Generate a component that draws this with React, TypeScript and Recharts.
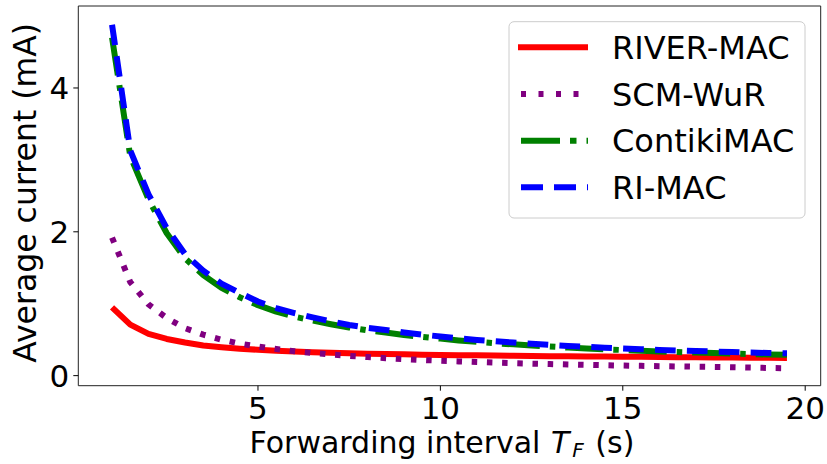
import React from "react";
import { LineChart, Line, XAxis, YAxis, ReferenceArea, Label } from "recharts";

// forwarding interval T_F in seconds
const intervals = [
  1, 1.5, 2, 2.5, 3, 3.5, 4, 4.5, 5, 5.5, 6, 6.5, 7, 7.5, 8, 8.5, 9, 9.5, 10,
  10.5, 11, 11.5, 12, 12.5, 13, 13.5, 14, 14.5, 15, 15.5, 16, 16.5, 17, 17.5,
  18, 18.5, 19, 19.5,
];

// average current in mA
const riverMac = [
  0.95, 0.71, 0.58, 0.51, 0.46, 0.42, 0.395, 0.375, 0.36, 0.345, 0.335, 0.325,
  0.318, 0.31, 0.305, 0.3, 0.296, 0.292, 0.288, 0.285, 0.282, 0.279, 0.276,
  0.274, 0.271, 0.269, 0.267, 0.265, 0.263, 0.261, 0.259, 0.257, 0.255, 0.253,
  0.251, 0.249, 0.247, 0.245,
];
const scmWur = [
  1.92, 1.3, 0.99, 0.8, 0.66, 0.57, 0.5, 0.445, 0.405, 0.37, 0.34, 0.315,
  0.293, 0.275, 0.258, 0.243, 0.23, 0.218, 0.207, 0.198, 0.189, 0.181, 0.174,
  0.167, 0.161, 0.155, 0.15, 0.145, 0.14, 0.136, 0.132, 0.128, 0.124, 0.121,
  0.117, 0.112, 0.107, 0.103,
];
const contikiMac = [
  4.7, 3.05, 2.45, 1.98, 1.63, 1.4, 1.22, 1.09, 0.98, 0.89, 0.82, 0.765, 0.715,
  0.67, 0.63, 0.6, 0.565, 0.54, 0.515, 0.49, 0.47, 0.45, 0.435, 0.42, 0.405,
  0.39, 0.378, 0.366, 0.356, 0.346, 0.337, 0.328, 0.32, 0.313, 0.306, 0.3,
  0.294, 0.29,
];
const riMac = [
  4.88, 3.13, 2.52, 2.05, 1.69, 1.46, 1.28, 1.15, 1.03, 0.94, 0.87, 0.81,
  0.755, 0.705, 0.665, 0.635, 0.6, 0.57, 0.545, 0.52, 0.497, 0.478, 0.46,
  0.443, 0.428, 0.413, 0.4, 0.388, 0.377, 0.367, 0.358, 0.35, 0.342, 0.335,
  0.327, 0.32, 0.315, 0.31,
];

const xTicks = [5, 10, 15, 20];
const yTicks = [0, 2, 4];
const xDomain: [number, number] = [0.075, 20.425];
const yDomain: [number, number] = [-0.14, 5.14];

const FONT = "'DejaVu Sans', sans-serif";
const W = 827;
const H = 464;
const LEGEND_SIZE = 32;
const TICK_SIZE = 31;

const series = [
  { key: "river", name: "RIVER-MAC", color: "#ff0000", dash: undefined, legendDash: undefined },
  { key: "scm", name: "SCM-WuR", color: "#800080", dash: "5.5 9.7", legendDash: "5 12.5" },
  { key: "contiki", name: "ContikiMAC", color: "#008000", dash: "38 10 5.5 10", legendDash: "39 10 6.5 10" },
  { key: "ri", name: "RI-MAC", color: "#0000ff", dash: "20.7 11.2", legendDash: "22 11" },
];

const data = intervals.map((x, i) => ({
  x,
  river: riverMac[i],
  scm: scmWur[i],
  contiki: contikiMac[i],
  ri: riMac[i],
}));

// "Forwarding interval T_F (s)" with an italic T and subscript F
const XTitle = (props: any) => {
  const { x, y, width } = props.viewBox;
  const cx = x + width / 2;
  const base = y + 67.5;
  return (
    <text x={cx - 200} y={base} fontFamily={FONT} fontSize={30} fill="#000" xmlSpace="preserve">
      <tspan>Forwarding interval </tspan>
      <tspan fontStyle="italic" dx={1}>T</tspan>
      <tspan fontStyle="italic" fontSize={20} dx={3} dy={4}>F</tspan>
      <tspan dx={2} dy={-4}> (s)</tspan>
    </text>
  );
};

const YTitle = (props: any) => {
  const { y, height } = props.viewBox;
  const bx = 35.7;
  const cy = y + height / 2 - 3;
  return (
    <text
      x={bx}
      y={cy}
      transform={`rotate(-90 ${bx} ${cy})`}
      textAnchor="middle"
      fontFamily={FONT}
      fontSize={31.5}
      fill="#000"
    >
      Average current (mA)
    </text>
  );
};

// legend box drawn over the top-right corner of the plot
const LegendBox = () => {
  const left = 509;
  const top = 21.7;
  const rowY = [47.3, 94, 140.7, 187.3];
  return (
    <svg width={W} height={H} style={{ position: "absolute", left: 0, top: 0, pointerEvents: "none" }}>
      <rect x={left} y={top} width={296} height={196.3} rx={5} fill="#fff" fillOpacity={0.8} stroke="#cccccc" strokeWidth={1} />
      {series.map((s, i) => (
        <g key={s.key}>
          <line
            x1={s.legendDash ? 521 : 518}
            x2={588}
            y1={rowY[i]}
            y2={rowY[i]}
            stroke={s.color}
            strokeWidth={6}
            strokeDasharray={s.legendDash}
          />
          <text x={612} y={rowY[i] + LEGEND_SIZE * 0.365} fontFamily={FONT} fontSize={LEGEND_SIZE} fill="#000">
            {s.name}
          </text>
        </g>
      ))}
    </svg>
  );
};

export default function App() {
  return (
    <div style={{ position: "absolute", left: 0, top: 0, width: W, height: H, background: "#fff" }}>
      <LineChart width={W} height={H} data={data} margin={{ top: 6, right: 6.3, bottom: 0.3, left: 8.3 }}>
        <XAxis
          dataKey="x"
          type="number"
          domain={xDomain}
          ticks={xTicks}
          allowDataOverflow
          height={78}
          axisLine={false}
          tickLine={{ stroke: "#000" }}
          tickSize={5}
          tickMargin={6}
          tick={{ fill: "#000", fontSize: TICK_SIZE, fontFamily: FONT }}
        >
          <Label content={XTitle} />
        </XAxis>
        <YAxis
          type="number"
          domain={yDomain}
          ticks={yTicks}
          allowDataOverflow
          width={70}
          axisLine={false}
          tickLine={{ stroke: "#000" }}
          tickSize={5}
          tickMargin={4}
          tick={{ fill: "#000", fontSize: TICK_SIZE, fontFamily: FONT }}
        >
          <Label content={YTitle} />
        </YAxis>
        {series.map((s) => (
          <Line
            key={s.key}
            type="linear"
            dataKey={s.key}
            name={s.name}
            stroke={s.color}
            strokeWidth={6}
            strokeDasharray={s.dash}
            strokeLinejoin="round"
            dot={false}
            activeDot={false}
            isAnimationActive={false}
          />
        ))}
        <ReferenceArea
          x1={xDomain[0]}
          x2={xDomain[1]}
          y1={yDomain[0]}
          y2={yDomain[1]}
          fill="none"
          stroke="#222"
          strokeWidth={1}
          ifOverflow="visible"
        />
      </LineChart>
      <LegendBox />
    </div>
  );
}
